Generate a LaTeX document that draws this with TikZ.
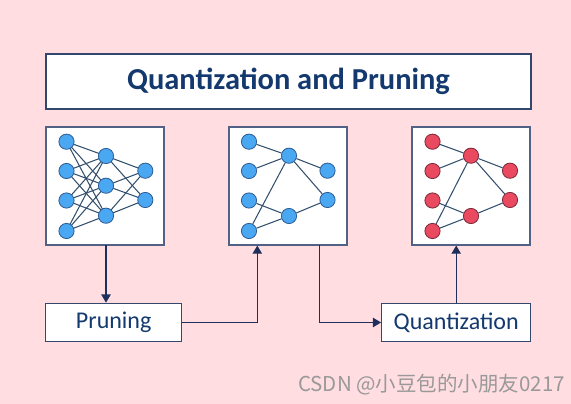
\documentclass[tikz,border=0pt]{standalone}
\usepackage{fontspec}
\setmainfont{Carlito}
\newfontfamily\cjkfont{Noto Sans CJK SC}
\usetikzlibrary{arrows.meta}
\definecolor{bgpink}{HTML}{FFDDE1}
\definecolor{navy}{HTML}{13396F}
\definecolor{linecol}{HTML}{1E2F5C}
\definecolor{boxline}{HTML}{33466E}
\definecolor{edgecol}{HTML}{34506F}
\definecolor{bluefill}{HTML}{4AA8F2}
\definecolor{blueline}{HTML}{2F5E96}
\definecolor{redfill}{HTML}{EA4A60}
\definecolor{redline}{HTML}{7E2A3C}
\tikzset{
  panel/.style={draw=boxline!85, line width=0.9pt, fill=white},
  labelbox/.style={draw=boxline, line width=1pt, fill=white, text=navy, font=\fontsize{20.5}{23}\selectfont},
  neuron/.style={circle, minimum size=13pt, inner sep=0pt, line width=0.7pt},
  bnode/.style={neuron, draw=blueline, fill=bluefill},
  rnode/.style={neuron, draw=redline, fill=redfill},
  edge/.style={draw=edgecol, line width=0.9pt},
  flow/.style={draw=linecol, line width=1.1pt, -{Triangle[length=7pt,width=8pt]}},
}
\begin{document}
\begin{tikzpicture}[x=0.03cm, y=-0.03cm]
\fill[bgpink] (0,0) rectangle (571,404);
\useasboundingbox (0,0) rectangle (571,404);
% title
\node[draw=boxline, line width=1pt, fill=white, minimum width=485*0.03cm, minimum height=55*0.03cm, text=navy, font=\bfseries\fontsize{26}{29}\selectfont] (title) at (288.5,81.5) {Quantization and Pruning};
% panels
\node[panel, minimum width=118*0.03cm, minimum height=118*0.03cm] (p1) at (105,186) {};
\node[panel, minimum width=118*0.03cm, minimum height=118*0.03cm] (p2) at (288,186) {};
\node[panel, minimum width=118*0.03cm, minimum height=118*0.03cm] (p3) at (471,186) {};
% panel 1: fully connected
\foreach \i/\y in {1/141.7,2/171,3/200.5,4/231}{\coordinate (a\i) at (66.5,\y);}
\foreach \i/\y in {1/156,2/185.7,3/215.7}{\coordinate (b\i) at (106,\y);}
\foreach \i/\y in {1/170.7,2/200}{\coordinate (c\i) at (145.3,\y);}
\foreach \i in {1,...,4}{\foreach \j in {1,2,3}{\draw[edge] (a\i) -- (b\j);}}
\foreach \i in {1,2,3}{\foreach \j in {1,2}{\draw[edge] (b\i) -- (c\j);}}
\foreach \i in {1,...,4}{\node[bnode] (na\i) at (a\i) {};}
\foreach \i in {1,2,3}{\node[bnode] (nb\i) at (b\i) {};}
\foreach \i in {1,2}{\node[bnode] (nc\i) at (c\i) {};}
% panel 2: pruned
\node[bnode] (qa1) at (249,141.7) {};
\node[bnode] (qa2) at (249,171) {};
\node[bnode] (qa3) at (249,200.5) {};
\node[bnode] (qa4) at (249,231) {};
\node[bnode] (qb1) at (289,155.7) {};
\node[bnode] (qb3) at (289,216) {};
\node[bnode] (qc1) at (327.5,170.7) {};
\node[bnode] (qc2) at (327.5,200) {};
\draw[edge] (qa1) -- (qb1);
\draw[edge] (qa2) -- (qb1);
\draw[edge] (qa4) -- (qb1);
\draw[edge] (qb1) -- (qc1);
\draw[edge] (qb1) -- (qc2);
\draw[edge] (qa3) -- (qb3);
\draw[edge] (qa4) -- (qb3);
\draw[edge] (qb3) -- (qc2);
% panel 3: quantized
\node[rnode] (ra1) at (432.5,141.7) {};
\node[rnode] (ra2) at (432.5,171) {};
\node[rnode] (ra3) at (432.5,200.5) {};
\node[rnode] (ra4) at (432.5,231) {};
\node[rnode] (rb1) at (471,155.7) {};
\node[rnode] (rb3) at (471,216) {};
\node[rnode] (rc1) at (510,170.7) {};
\node[rnode] (rc2) at (510,200) {};
\draw[edge] (ra1) -- (rb1);
\draw[edge] (ra2) -- (rb1);
\draw[edge] (ra4) -- (rb1);
\draw[edge] (rb1) -- (rc1);
\draw[edge] (rb1) -- (rc2);
\draw[edge] (ra3) -- (rb3);
\draw[edge] (ra4) -- (rb3);
\draw[edge] (rb3) -- (rc2);
% label boxes
\node[labelbox, minimum width=136*0.03cm, minimum height=38.5*0.03cm] (prun) at (113.7,322.5) {Pruning};
\node[labelbox, minimum width=149*0.03cm, minimum height=38.5*0.03cm] (quant) at (456.2,322.5) {Quantization};
% flow arrows
\coordinate (s1) at (106,245);
\draw[flow] (s1) -- (prun.north -| s1);
\coordinate (k2) at (257.3,322.5);
\draw[flow] (prun.east) -- (k2) -- (k2 |- p2.south);
\coordinate (k3) at (319.3,245);
\draw[flow] (k3) -- (k3 |- quant.west) -- (quant.west);
\draw[flow] (quant.north) -- (p3.south -| quant.north);
% watermark
\node[anchor=west, text=gray!80, font=\cjkfont\fontsize{17.5}{19}\selectfont, inner sep=0pt] (wm) at (298,385) {CSDN @小豆包的小朋友0217};
\end{tikzpicture}
\end{document}
